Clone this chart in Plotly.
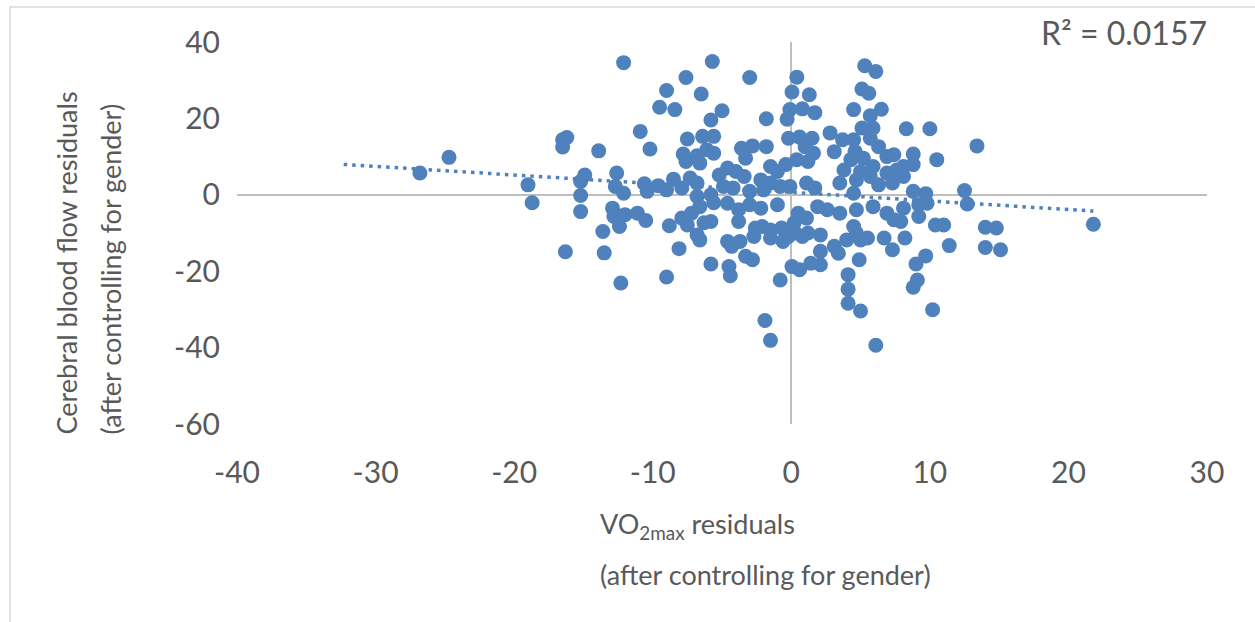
import numpy as np
import plotly.graph_objects as go

# VO2max residuals (x) and cerebral blood flow residuals (y)
vo2_resid = [
    -26.8, -24.7, -19.0, -18.7, -16.5, -16.2, -16.5, -13.9, -14.9, -15.2, -15.2, -15.2, -13.6, -16.3, -13.5,
    -12.1, -7.6, -9.0, -6.5, -5.7, -9.5, -8.4, -5.0, -5.8, -10.9, -7.5, -6.4, -5.6, -10.2, -7.8, -6.8,
    -6.1, -5.6, -6.6, -7.6, -12.6, -5.2, -12.7, -12.1, -10.6, -9.6, -8.5, -7.3, -6.8, -10.4, -9.0, -7.9,
    -6.8, -5.8,
    -12.9, -12.8, -12.0, -11.1, -10.5, -12.4, -12.3, -9.0, -8.1, -8.8, -7.9, -7.2, -6.6, -7.5, -6.8,
    -6.6, -5.8, -6.3, -5.6, -5.8,
    -3.0, 0.4, 0.05, 1.3, -1.8, -0.1, 0.8, 1.7, -0.3, -0.2, 0.6, 1.5, 1.0, -3.6, -2.8, -1.8, -3.3,
    -0.4, 0.4, 1.2, 1.6, -4.6, -4.0, -3.4, -1.5, -1.0, -1.5, -2.2, -4.9, -4.2, -3.0, -2.0, -0.8, -0.1,
    1.1, 1.7,
    -4.6, -3.8, -3.0, -2.2, -1.0, 0.5, 1.1, 1.9, 0.2, -3.8, -2.6, -2.1, -1.5, -0.7, -0.6, -1.5, -4.6,
    -4.3, -3.7, -2.7, -3.3, -2.8, -4.5, -4.4, -0.8, 0.05, 0.6, 1.2, 2.1, 1.4, 2.1, -1.9, -1.5, -0.2,
    0.3, 0.8,
    5.3, 6.1, 5.1, 5.6, 4.5, 6.5, 5.7, 5.1, 5.9, 2.8, 3.7, 3.1, 4.5, 4.6, 5.7, 6.3, 6.9, 7.4, 4.3,
    5.2, 5.9, 3.8, 5.0, 3.5, 4.7, 5.7, 6.9, 7.6, 7.3, 6.3, 4.5,
    2.6, 3.5, 4.7, 5.9, 6.9, 7.4, 3.1, 4.0, 5.0, 5.5, 2.1, 3.4, 4.5, 4.7, 6.7, 7.3, 4.9, 4.1, 4.1,
    4.1, 5.0, 6.1,
    8.3, 10.0, 13.4, 8.8, 10.5, 8.8, 8.1, 8.1, 8.8, 9.7, 12.5,
    12.7, 8.1, 9.2, 9.8, 9.2, 7.9, 10.4, 11.0, 8.2, 11.4, 14.0, 14.8, 14.0, 15.1, 9.7, 9.0, 9.1,
    8.8, 10.2,
    21.8,
]
cbf_resid = [
    5.7, 9.8, 2.6, -2.1, 14.4, 15.0, 12.5, 11.5, 5.2, 3.5, -0.2, -4.4, -9.6, -14.9, -15.2,
    34.6, 30.7, 27.3, 26.4, 34.9, 22.9, 22.3, 22.0, 19.6, 16.6, 14.6, 15.3, 15.3, 12.0, 10.7, 10.2,
    11.8, 10.9, 8.3, 8.7, 5.7, 5.2, 2.2, 0.4, 2.9, 2.4, 4.1, 4.4, 3.1, 0.9, 1.3, 1.8,
    -0.4, 0.0,
    -3.5, -5.7, -5.2, -4.8, -6.7, -8.3, -23.1, -21.5, -14.1, -8.1, -6.1, -4.8, -3.1, -7.9, -10.5,
    -11.8, -7.0, -7.3, -2.1, -18.1,
    30.7, 30.8, 26.9, 26.2, 19.9, 22.3, 22.5, 21.5, 19.8, 14.8, 15.1, 14.8, 12.6, 12.2, 12.8, 12.6, 9.6,
    7.9, 9.2, 8.7, 10.9, 7.0, 6.1, 4.8, 7.4, 6.1, 3.1, 3.9, 2.2, 1.8, 0.9, 1.3, 2.2, 2.2,
    3.1, 1.8,
    -2.2, -3.9, -2.6, -3.5, -2.6, -4.8, -6.1, -3.1, -7.4, -7.0, -8.7, -8.3, -9.2, -8.7, -12.2, -11.3, -12.2,
    -13.5, -12.2, -10.9, -16.1, -17.0, -18.8, -21.2, -22.3, -18.8, -19.6, -10.0, -10.5, -17.9, -14.8, -32.9, -38.1, -10.9,
    -10.0, -10.9,
    33.8, 32.3, 27.7, 26.6, 22.3, 22.4, 20.7, 17.5, 17.5, 16.2, 14.4, 11.3, 14.4, 11.3, 14.8, 12.6, 10.0, 10.5, 9.2,
    9.6, 7.4, 6.5, 6.1, 3.1, 3.9, 4.8, 5.7, 6.5, 3.1, 2.6, 0.4,
    -3.9, -4.8, -3.9, -3.1, -4.8, -6.5, -13.5, -11.8, -11.8, -11.3, -18.3, -15.3, -8.3, -10.0, -11.3, -14.4, -17.0, -20.9, -24.7,
    -28.4, -30.4, -39.4,
    17.3, 17.3, 12.8, 10.7, 9.2, 7.9, 7.4, 4.8, 0.9, 0.3, 1.1,
    -2.4, -3.5, -2.6, -2.2, -5.7, -7.0, -7.9, -7.9, -11.3, -13.3, -8.5, -8.7, -13.8, -14.4, -16.0, -18.1, -22.3,
    -24.2, -30.1,
    -7.7,
]

x_ticks = [-40, -30, -20, -10, 0, 10, 20, 30]
y_ticks = [-60, -40, -20, 0, 20, 40]
r_squared = 0.0157

x = np.array(vo2_resid)
y = np.array(cbf_resid)

# regression line whose correlation matches the stated R² (negative trend),
# extended backwards like the spreadsheet forecast option
r = -np.sqrt(r_squared)
slope = r * y.std() / x.std()
intercept = y.mean() - slope * x.mean()
trend_x = np.array([x.min() - 5.5, x.max()])
trend_y = slope * trend_x + intercept

W, H = 1255, 622
L, R, T, B = 237, 1207, 42, 424  # plot area in pixels


def px_x(p):
    return (p - L) / (R - L)


def px_y(p):
    return (B - p) / (B - T)


BLUE = "#4F81BD"
TEXT = "#595959"
FONT = "Lato"

fig = go.Figure()
fig.add_trace(go.Scatter(
    x=trend_x, y=trend_y, mode="lines",
    line=dict(color=BLUE, width=3.5, dash="3.5px,5px"),
    hoverinfo="skip", showlegend=False,
))
fig.add_trace(go.Scatter(
    x=x, y=y, mode="markers",
    marker=dict(color=BLUE, size=15, line=dict(width=0)),
    showlegend=False,
))

fig.update_layout(
    width=W, height=H,
    margin=dict(l=L, r=W - R, t=T, b=H - B, pad=0),
    paper_bgcolor="white", plot_bgcolor="white",
    font=dict(family=FONT, color=TEXT, size=30),
    xaxis=dict(
        range=[-40, 30], tickvals=x_ticks, ticktext=[str(v) for v in x_ticks],
        showgrid=False, showline=False,
        zeroline=True, zerolinecolor="#BFBFBF", zerolinewidth=2,
        ticks="", ticklabelstandoff=28, tickfont=dict(size=30, color=TEXT),
    ),
    yaxis=dict(
        range=[-60, 40], tickvals=y_ticks, ticktext=[str(v) for v in y_ticks],
        showgrid=False, showline=False,
        zeroline=True, zerolinecolor="#BFBFBF", zerolinewidth=2,
        ticks="", ticklabelstandoff=16, tickfont=dict(size=30, color=TEXT),
    ),
)

# chart-area outline
fig.add_shape(type="rect", xref="paper", yref="paper",
              x0=px_x(10), x1=px_x(W + 20), y0=px_y(H + 20), y1=px_y(7),
              line=dict(color="#D9D9D9", width=1.5), layer="below")

ann = [
    dict(text=f"R² = {r_squared}", x=px_x(1209), y=px_y(33), xanchor="right", yanchor="middle",
         font=dict(size=32)),
    dict(text="VO<sub>2max</sub> residuals", x=px_x(598), y=px_y(525),
         xanchor="left", yanchor="middle", font=dict(size=27)),
    dict(text="(after controlling for gender)", x=px_x(598), y=px_y(574),
         xanchor="left", yanchor="middle", font=dict(size=27)),
    dict(text="Cerebral blood flow residuals", x=px_x(66), y=px_y(437),
         xanchor="center", yanchor="bottom", textangle=-90, font=dict(size=27)),
    dict(text="(after controlling for gender)", x=px_x(110), y=px_y(437),
         xanchor="center", yanchor="bottom", textangle=-90, font=dict(size=27)),
]
for a in ann:
    fig.add_annotation(xref="paper", yref="paper", showarrow=False, **a)

fig.write_html("out.html")
